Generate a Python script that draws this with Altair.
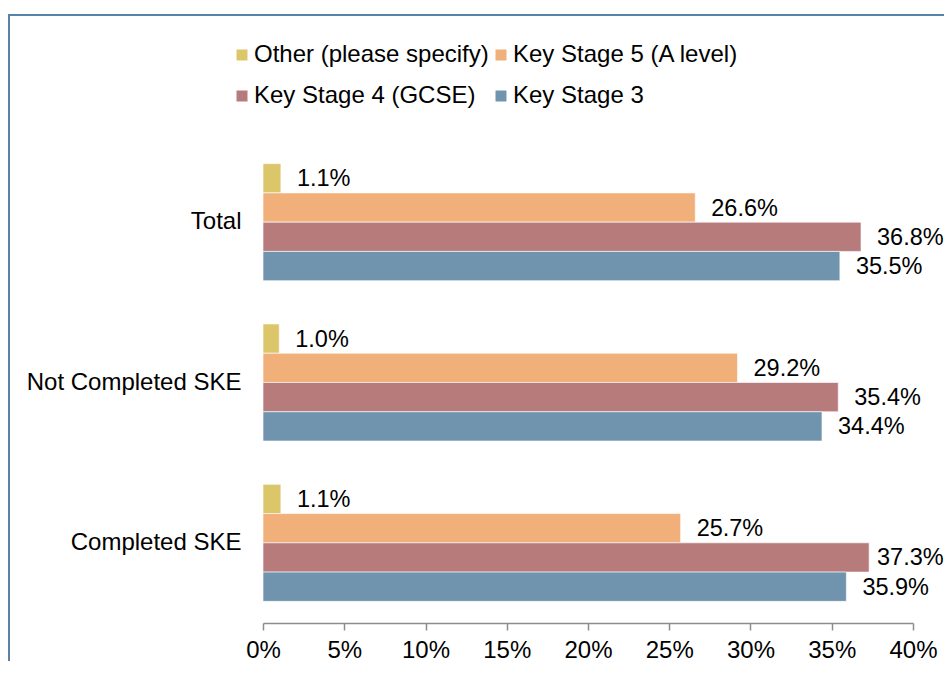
import altair as alt
import pandas as pd

groups = ["Total", "Not Completed SKE", "Completed SKE"]
series = ["Other (please specify)", "Key Stage 5 (A level)", "Key Stage 4 (GCSE)", "Key Stage 3"]
colors = ["#dbc66a", "#f1b07a", "#b87b7c", "#7194ae"]

other = [1.1, 1.0, 1.1]
ks5 = [26.6, 29.2, 25.7]
ks4 = [36.8, 35.4, 37.3]
ks3 = [35.5, 34.4, 35.9]

x_ticks = [0, 0.05, 0.10, 0.15, 0.20, 0.25, 0.30, 0.35, 0.40]

rows = []
for s, vals in zip(series, [other, ks5, ks4, ks3]):
    for g, v in zip(groups, vals):
        rows.append({"group": g, "series": s, "value": v / 100})
df = pd.DataFrame(rows)

W, H = 650, 481
FONT = "Liberation Sans"
FS = 24

x = alt.X("value:Q", scale=alt.Scale(domain=[0, 0.4], nice=False),
          axis=alt.Axis(values=x_ticks, format=".0%", title=None, grid=False,
                        labelFlush=False, labelOverlap=False,
                        domainColor="#8c8c8c", tickColor="#8c8c8c", tickSize=7,
                        labelFontSize=FS, labelFont=FONT, labelColor="#000000",
                        labelPadding=8, domainWidth=1.5, tickWidth=1.5))
y = alt.Y("group:N", sort=groups,
          scale=alt.Scale(paddingInner=0.27, paddingOuter=0.135),
          axis=alt.Axis(title=None, domain=False, ticks=False, labelFontSize=FS,
                        labelFont=FONT, labelColor="#000000", labelPadding=22,
                        labelLimit=400))
yoff = alt.YOffset("series:N", sort=series, scale=alt.Scale(paddingInner=0, paddingOuter=0))

bars = alt.Chart(df).mark_bar(stroke="#ffffff", strokeWidth=1, strokeOpacity=0.6).encode(
    x=x, y=y, yOffset=yoff,
    color=alt.Color("series:N", sort=series,
                    scale=alt.Scale(domain=series, range=colors),
                    legend=alt.Legend(title=None, orient="none", legendX=-33, legendY=-99,
                                      columns=2, direction="horizontal",
                                      symbolType="square", symbolSize=121,
                                      symbolStrokeWidth=0, labelFontSize=FS, labelFont=FONT,
                                      labelColor="#000000", labelOffset=0, columnPadding=-6,
                                      rowPadding=17, padding=0, labelLimit=400)),
)

# like the source chart, labels near the right edge are kept inside the visible area
labels = alt.Chart(df).transform_calculate(
    lx="min(datum.value, 0.368)"
).mark_text(align="left", baseline="middle", dx=16, dy=1,
            fontSize=23.5, font=FONT, color="#000000").encode(
    x=alt.X("lx:Q", scale=alt.Scale(domain=[0, 0.4], nice=False)),
    y=alt.Y("group:N", sort=groups), yOffset=alt.YOffset("series:N", sort=series),
    text=alt.Text("value:Q", format=".1%"),
)

frame = alt.Chart(pd.DataFrame({"a": [0]})).mark_rect(
    fill=None, stroke="#5882a6", strokeWidth=2).encode(
    x=alt.value(-254), x2=alt.value(W + 300), y=alt.value(-127), y2=alt.value(H + 300))

chart = alt.layer(frame, bars, labels).properties(
    width=W, height=H,
    autosize=alt.AutoSizeParams(type="none"),
    padding={"left": 255, "top": 134, "right": 31, "bottom": 38},
).configure(background="#ffffff", view=alt.ViewConfig(stroke=None))

chart.save("out.html", embed_options={"renderer": "svg", "actions": False})
